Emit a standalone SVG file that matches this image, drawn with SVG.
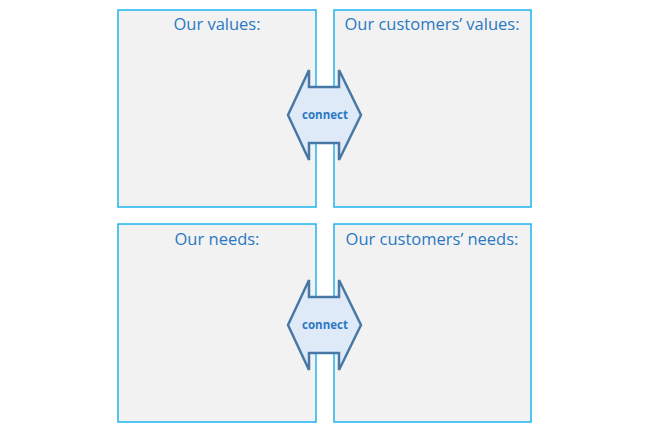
<svg xmlns="http://www.w3.org/2000/svg" width="648" height="432" viewBox="0 0 648 432">
<style>
.box{fill:#F2F2F2;stroke:#1FB4EE;stroke-width:1.5}
.title{font-family:"Open Sans","Liberation Sans",sans-serif;font-size:16.5px;font-weight:400;fill:#2A78C2;text-anchor:middle}
.arrow{fill:#DEEAF7;stroke:#4A78A6;stroke-width:2.5;stroke-linejoin:miter}
.lbl{font-family:"Open Sans","Liberation Sans",sans-serif;font-size:11.5px;font-weight:bold;fill:#2A78C2;text-anchor:middle}
</style>
<rect width="648" height="432" fill="#FFFFFF"/>
<g id="our-values"><rect class="box" x="118" y="10" width="198" height="197"/><text class="title" x="217" y="30">Our values:</text></g>
<g id="customers-values"><rect class="box" x="334" y="10" width="197" height="197"/><text class="title" x="432" y="30">Our customers’ values:</text></g>
<g id="our-needs"><rect class="box" x="118" y="224" width="198" height="198"/><text class="title" x="217" y="245">Our needs:</text></g>
<g id="customers-needs"><rect class="box" x="334" y="224" width="197" height="198"/><text class="title" x="432" y="245">Our customers’ needs:</text></g>
<g id="connectors">
<g id="connect-top"><polygon class="arrow" points="309,70 309,87 339,87 339,70 361,115 339,160 339,143 309,143 309,160 288,115"/><text class="lbl" x="325" y="119">connect</text></g>
<g id="connect-bottom"><polygon class="arrow" points="309,280 309,297 339,297 339,280 361,325 339,370 339,353 309,353 309,370 288,325"/><text class="lbl" x="325" y="329">connect</text></g>
</g>
</svg>
